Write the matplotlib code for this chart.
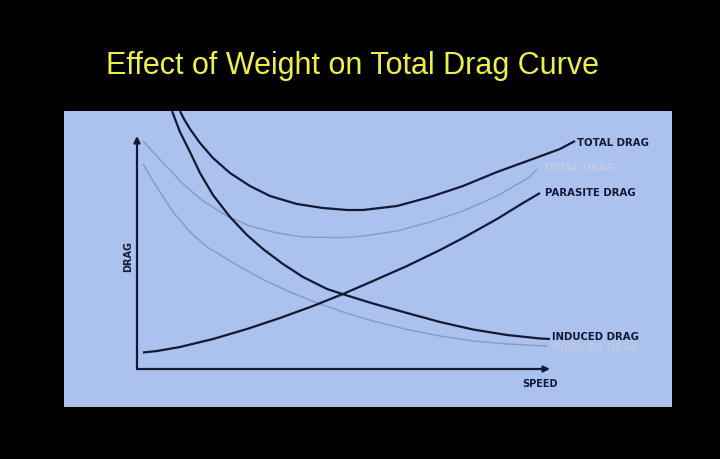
import matplotlib
matplotlib.use("Agg")
from matplotlib import pyplot as plt

# values; speed / drag in the chart's own units
# (origin at the corner of the two axis arrows)
total_speed = [43, 47, 53, 63, 76, 93, 113, 133, 160, 186, 210, 226, 260, 293,
               326, 360, 393, 423, 438]
total_drag = [258, 250, 240, 226, 211, 196, 183, 173, 165, 161, 159, 159, 163,
              172, 183, 197, 209, 220, 228]

total_lo_speed = [6, 16, 30, 46, 66, 90, 113, 140, 166, 193, 210, 226, 260,
                  293, 326, 360, 393, 400]
total_lo_drag = [228, 217, 202, 185, 168, 153, 143, 136, 132, 131.5, 131.5,
                 133, 138, 147, 158, 173, 192, 200]

induced_speed = [35, 43, 53, 63, 76, 93, 110, 126, 146, 166, 190, 210, 236,
                 270, 303, 336, 370, 403, 413]
induced_drag = [258, 237, 217, 196, 174, 152, 134, 120, 105, 92, 80, 73.5,
                65.5, 56, 47, 39.5, 34, 30.5, 30]

induced_lo_speed = [6, 13, 23, 36, 53, 70, 100, 126, 153, 180, 206, 236, 270,
                    303, 336, 370, 410]
induced_lo_drag = [205, 193, 177, 157, 137, 122, 104, 89.5, 77, 66, 57, 48,
                   39.5, 33, 28, 25, 23]

parasite_speed = [6, 20, 43, 76, 110, 143, 176, 206, 236, 270, 303, 326, 360,
                  386, 403]
parasite_drag = [16.5, 18, 22, 30, 40, 51, 63, 75, 88, 103, 119, 131, 150,
                 166, 176]

labels = ["TOTAL DRAG", "TOTAL DRAG", "PARASITE DRAG", "INDUCED DRAG", "INDUCED DRAG"]
label_speed = [440, 406, 408, 415, 415]
label_drag = [227, 202, 177, 33, 22]

dark = "#121a33"
grey = "#8a9aba"
panel = "#abc2ee"

fig = plt.figure(figsize=(7.2, 4.6), dpi=100, facecolor="black")
fig.text(352 / 720, 1 - 66 / 460, "Effect of Weight on Total Drag Curve",
         color="#eef04a", fontsize=22, ha="center", va="center",
         family="Liberation Sans")

ax = fig.add_axes([64 / 720, 52 / 460, 608 / 720, 296 / 460])
ax.set_facecolor(panel)
ax.set_xlim(-73, 535)
ax.set_ylim(-38, 258)
for s in ax.spines.values():
    s.set_visible(False)
ax.set_xticks([])
ax.set_yticks([])

line = dict(solid_joinstyle="round", solid_capstyle="butt")
ax.plot(total_lo_speed, total_lo_drag, color=grey, lw=1.0, **line)
ax.plot(induced_lo_speed, induced_lo_drag, color=grey, lw=1.0, **line)
ax.plot(total_speed, total_drag, color=dark, lw=1.6, **line)
ax.plot(induced_speed, induced_drag, color=dark, lw=1.6, **line)
ax.plot(parasite_speed, parasite_drag, color=dark, lw=1.6, **line)

# axis arrows
arrow = dict(arrowstyle="-|>", color=dark, lw=1.6, mutation_scale=9,
             shrinkA=0, shrinkB=0)
ax.annotate("", xy=(0, 233), xytext=(0, 0), arrowprops=arrow)
ax.annotate("", xy=(413, 0), xytext=(0, 0), arrowprops=arrow)
ax.text(-9, 113, "DRAG", rotation=90, ha="center", va="center",
        fontsize=7, fontweight="bold", color=dark, family="DejaVu Sans")
ax.text(403, -14, "SPEED", ha="center", va="center",
        fontsize=7, fontweight="bold", color=dark, family="DejaVu Sans")

colors = [dark, "#c2cce4", dark, dark, "#bec9e2"]
for t, x, y, c in zip(labels, label_speed, label_drag, colors):
    ax.text(x, y, t, ha="left", va="center", fontsize=7.3,
            fontweight="bold", color=c, family="DejaVu Sans")

fig.savefig("out.png", dpi=100, facecolor="black")
